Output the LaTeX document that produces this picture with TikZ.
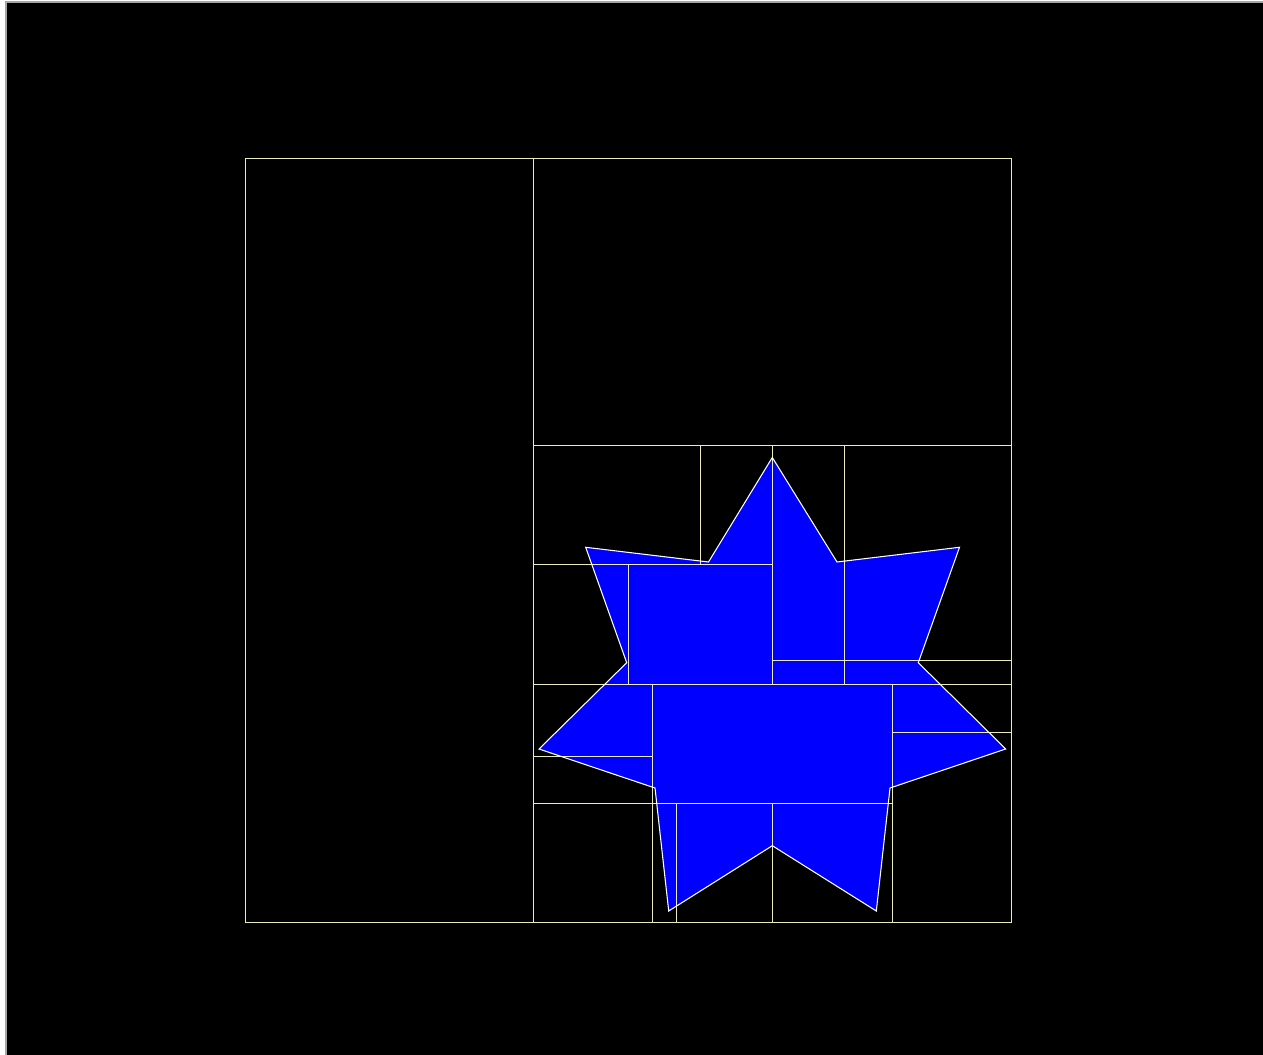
\documentclass[tikz,border=0pt]{standalone}
\usepackage{tikz}
\definecolor{gridline}{RGB}{235,235,185}
\definecolor{starblue}{RGB}{0,0,255}

\begin{document}
\begin{tikzpicture}[
  x=0.01cm, y=-0.01cm,
  cell/.style={draw=gridline, line width=0.28pt},
  starshape/.style={fill=starblue, draw=white, line width=0.3pt, line join=miter},
  frame/.style={fill=black, draw=gray!70, line width=0.5pt}
]
  % - Nen -
  \fill[white] (0,0) rectangle (1263,1055);
  \useasboundingbox (0,0) rectangle (1263,1055);
  \draw[frame] (6,2) rectangle (1265,1057);

  % - Ngoi sao -
  \coordinate (t1) at (772.3,457.5);
  \coordinate (i1) at (837,562);
  \coordinate (t2) at (959.5,547.3);
  \coordinate (i2) at (918.3,662.7);
  \coordinate (t3) at (1005.7,749);
  \coordinate (i3) at (890,788);
  \coordinate (t4) at (876.3,911);
  \coordinate (i4) at (772.3,845.7);
  \coordinate (t5) at (668.7,911);
  \coordinate (i5) at (655,788);
  \coordinate (t6) at (539,749);
  \coordinate (i6) at (626.7,662.7);
  \coordinate (t7) at (585.7,547.3);
  \coordinate (i7) at (708.5,562);
  \fill[starblue] (t1) -- (i1) -- (t2) -- (i2) -- (t3) -- (i3) -- (t4)
    -- (i4) -- (t5) -- (i5) -- (t6) -- (i6) -- (t7) -- (i7) -- cycle;

  % - Luoi o -
  \draw[cell] (245.3,158.3) rectangle (1011.8,922.8);
  \draw[cell] (533,158.3) -- (533,922.8);
  \draw[cell] (533,445) -- (1011.8,445);
  \draw[cell] (700.7,445) -- (700.7,564.3);
  \draw[cell] (772.3,445) -- (772.3,684.3);
  \draw[cell] (844.3,445) -- (844.3,684.3);
  \draw[cell] (533,564.3) -- (772.3,564.3);
  \draw[cell] (628.5,564.3) -- (628.5,684.3);
  \draw[cell] (772.3,660.3) -- (1011.8,660.3);
  \draw[cell] (533,684.3) -- (1011.8,684.3);
  \draw[cell] (652.5,684.3) -- (652.5,922.8);
  \draw[cell] (892,684.3) -- (892,922.8);
  \draw[cell] (892,732) -- (1011.8,732);
  \draw[cell] (533,756) -- (652.5,756);
  \draw[cell] (533,803.7) -- (892,803.7);
  \draw[cell] (676.3,803.7) -- (676.3,922.8);
  \draw[cell] (772.3,803.7) -- (772.3,922.8);

  % - Vien ngoi sao -
  \draw[starshape, fill=none] (t1) -- (i1) -- (t2) -- (i2) -- (t3) -- (i3) -- (t4)
    -- (i4) -- (t5) -- (i5) -- (t6) -- (i6) -- (t7) -- (i7) -- cycle;
\end{tikzpicture}
\end{document}
